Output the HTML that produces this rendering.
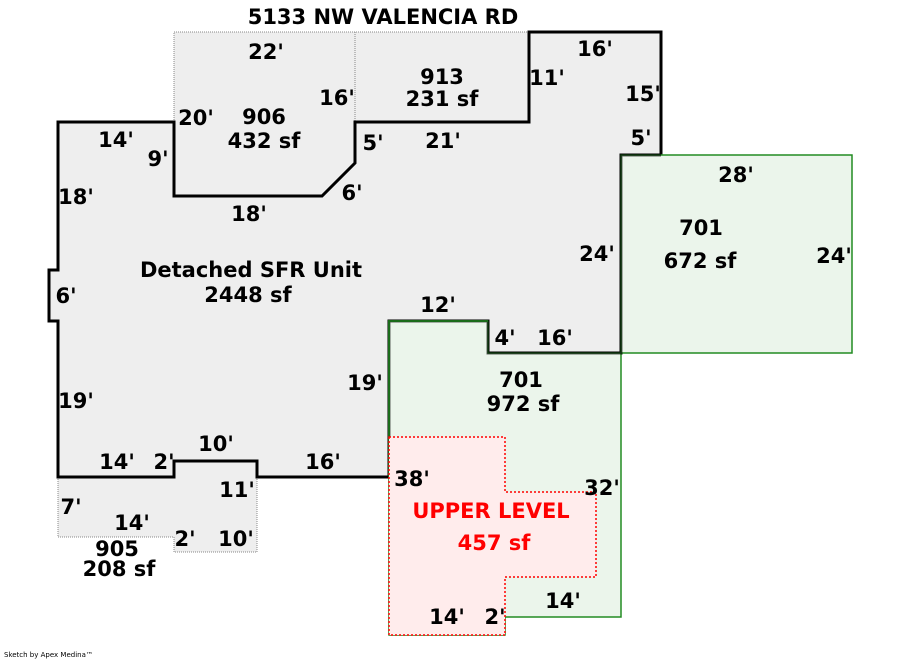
<!DOCTYPE html>
<html><head><style>
html,body{margin:0;padding:0;background:#fff;}
svg text{font-family:"DejaVu Sans","Liberation Sans",sans-serif;font-weight:bold;font-size:21px;fill:#000;}
</style></head><body>
<svg width="900" height="660" viewBox="0 0 900 660" xmlns="http://www.w3.org/2000/svg">
<polygon points="174,32 529,32 529,122 355,122 355,163 322,196 174,196" fill="#eeeeee" stroke="none"/>
<polyline points="174,122 174,32 529,32" fill="none" stroke="#888" stroke-width="1" stroke-dasharray="1,1"/>
<line x1="355" y1="32" x2="355" y2="122" stroke="#888" stroke-width="1" stroke-dasharray="1,1"/>
<polygon points="58,477 174,477 174,461 257,461 257,552 174,552 174,537 58,537" fill="#eeeeee" stroke="none"/>
<polyline points="58,477 58,537 174,537 174,552 257,552 257,477" fill="none" stroke="#888" stroke-width="1" stroke-dasharray="1,1"/>
<polygon points="58,122 174,122 174,196 322,196 355,163 355,122 529,122 529,32 661,32 661,155 621,155 621,353 488,353 488,321 389,321 389,477 257,477 257,461 174,461 174,477 58,477 58,321 49,321 49,270 58,270" fill="#eeeeee" stroke="#000" stroke-width="3"/>
<rect x="621" y="155" width="231" height="198" fill="#ebf5eb" stroke="#228b22" stroke-width="1.5"/>
<polygon points="389,321 488,321 488,353 621,353 621,617 505,617 505,635 389,635" fill="#ebf5eb" stroke="#228b22" stroke-width="1.5"/>
<polyline points="389,477 389,321 488,321 488,353 621,353 621,155 661,155" fill="none" stroke="#000" stroke-width="3" opacity="0.6"/>
<polyline points="389,477 389,321 488,321" fill="none" stroke="#1a6b1a" stroke-width="2"/>
<polygon points="389,437 505,437 505,492 596,492 596,577 505,577 505,635 389,635" fill="#ffecec" stroke="#ff0000" stroke-width="1.5" stroke-dasharray="2,2"/>

<text x="383" y="24" text-anchor="middle">5133 NW VALENCIA RD</text>
<text x="266" y="59" text-anchor="middle">22'</text>
<text x="337" y="105" text-anchor="middle">16'</text>
<text x="196" y="125" text-anchor="middle">20'</text>
<text x="264" y="124" text-anchor="middle">906</text>
<text x="264" y="148" text-anchor="middle">432 sf</text>
<text x="116" y="147" text-anchor="middle">14'</text>
<text x="158" y="166" text-anchor="middle">9'</text>
<text x="76" y="204" text-anchor="middle">18'</text>
<text x="249" y="221" text-anchor="middle">18'</text>
<text x="352" y="200" text-anchor="middle">6'</text>
<text x="373" y="150" text-anchor="middle">5'</text>
<text x="443" y="148" text-anchor="middle">21'</text>
<text x="442" y="84" text-anchor="middle">913</text>
<text x="442" y="106" text-anchor="middle">231 sf</text>
<text x="547" y="85" text-anchor="middle">11'</text>
<text x="595" y="56" text-anchor="middle">16'</text>
<text x="643" y="101" text-anchor="middle">15'</text>
<text x="641" y="145" text-anchor="middle">5'</text>
<text x="736" y="182" text-anchor="middle">28'</text>
<text x="701" y="235" text-anchor="middle">701</text>
<text x="700" y="268" text-anchor="middle">672 sf</text>
<text x="834" y="263" text-anchor="middle">24'</text>
<text x="597" y="261" text-anchor="middle">24'</text>
<text x="251" y="277" text-anchor="middle">Detached SFR Unit</text>
<text x="248" y="302" text-anchor="middle">2448 sf</text>
<text x="66" y="303" text-anchor="middle">6'</text>
<text x="438" y="312" text-anchor="middle">12'</text>
<text x="505" y="345" text-anchor="middle">4'</text>
<text x="555" y="345" text-anchor="middle">16'</text>
<text x="521" y="387" text-anchor="middle">701</text>
<text x="523" y="411" text-anchor="middle">972 sf</text>
<text x="365" y="390" text-anchor="middle">19'</text>
<text x="76" y="408" text-anchor="middle">19'</text>
<text x="216" y="451" text-anchor="middle">10'</text>
<text x="117" y="469" text-anchor="middle">14'</text>
<text x="164" y="469" text-anchor="middle">2'</text>
<text x="323" y="469" text-anchor="middle">16'</text>
<text x="237" y="497" text-anchor="middle">11'</text>
<text x="412" y="486" text-anchor="middle">38'</text>
<text x="602" y="495" text-anchor="middle">32'</text>
<text x="71" y="514" text-anchor="middle">7'</text>
<text x="132" y="530" text-anchor="middle">14'</text>
<text x="185" y="546" text-anchor="middle">2'</text>
<text x="236" y="546" text-anchor="middle">10'</text>
<text x="117" y="556" text-anchor="middle">905</text>
<text x="119" y="576" text-anchor="middle">208 sf</text>
<text x="491" y="518" text-anchor="middle" style="fill:#ff0000">UPPER LEVEL</text>
<text x="494" y="550" text-anchor="middle" style="fill:#ff0000">457 sf</text>
<text x="563" y="608" text-anchor="middle">14'</text>
<text x="447" y="624" text-anchor="middle">14'</text>
<text x="495" y="624" text-anchor="middle">2'</text>
<text x="4" y="657" style="font-size:7px;font-weight:normal">Sketch by Apex Medina™</text>
</svg>
</body></html>
